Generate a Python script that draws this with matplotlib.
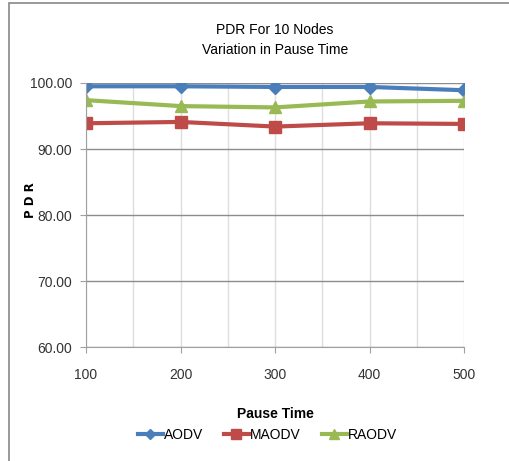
import matplotlib.pyplot as plt
from matplotlib.patches import Rectangle

pause_time = [100, 200, 300, 400, 500]
aodv = [99.5, 99.5, 99.4, 99.4, 98.9]
maodv = [93.9, 94.1, 93.4, 93.9, 93.8]
raodv = [97.4, 96.5, 96.3, 97.2, 97.3]
yticks = [60, 70, 80, 90, 100]

plt.rcParams['font.family'] = ['Liberation Sans', 'DejaVu Sans']

fig = plt.figure(figsize=(5.09, 4.61), dpi=100)
ax = fig.add_axes([0.169, 0.247, 0.743, 0.573])

# outer frame (cut off at right and bottom)
fig.patches.append(Rectangle((9/509, -0.1), 1.2, 1 - 3/461 + 0.1, transform=fig.transFigure,
                             fill=False, edgecolor='#888888', lw=1.2))

ax.plot(pause_time, aodv, color='#4a7ebb', lw=3, marker='D', ms=7, label='AODV')
ax.plot(pause_time, maodv, color='#be4b48', lw=3, marker='s', ms=9, label='MAODV')
ax.plot(pause_time, raodv, color='#98b954', lw=3, marker='^', ms=9, label='RAODV')

ax.set_xlim(100, 500)
ax.set_ylim(60, 100)
ax.set_yticks(yticks)
ax.set_yticklabels(['%.2f' % v for v in yticks], fontsize=10, color='#333333')
ax.set_xticks(pause_time)
ax.set_xticklabels([str(v) for v in pause_time], fontsize=10, color='#333333')
ax.set_xticks([150, 250, 350, 450], minor=True)

ax.grid(axis='y', color='#8c8c8c', lw=1)
ax.grid(axis='x', which='both', color='#dedede', lw=1)
ax.set_axisbelow(True)
for s in ['top', 'right']:
    ax.spines[s].set_visible(False)
ax.spines['left'].set_color('#a0a0a0')
ax.spines['bottom'].set_color('#a0a0a0')
ax.tick_params(axis='both', which='both', color='#a0a0a0', length=4, pad=6)
ax.tick_params(axis='x', which='major', pad=11)
ax.tick_params(axis='x', which='minor', length=0)

ax.set_title('PDR For 10 Nodes\nVariation in Pause Time', fontsize=10, pad=21, linespacing=1.55)
ax.set_xlabel('Pause Time', fontsize=10, fontweight='bold', labelpad=18)
fig.text(0.06, 0.565, 'P D R', rotation=90, ha='center', va='center',
         fontsize=8.5, fontweight='bold', family='DejaVu Sans')

ax.legend(loc='upper center', bbox_to_anchor=(0.48, -0.26), ncol=3, frameon=False,
          fontsize=10, handlelength=1.8, handletextpad=0.1, columnspacing=1.5, markerscale=0.75)

fig.savefig('out.png', dpi=100)
